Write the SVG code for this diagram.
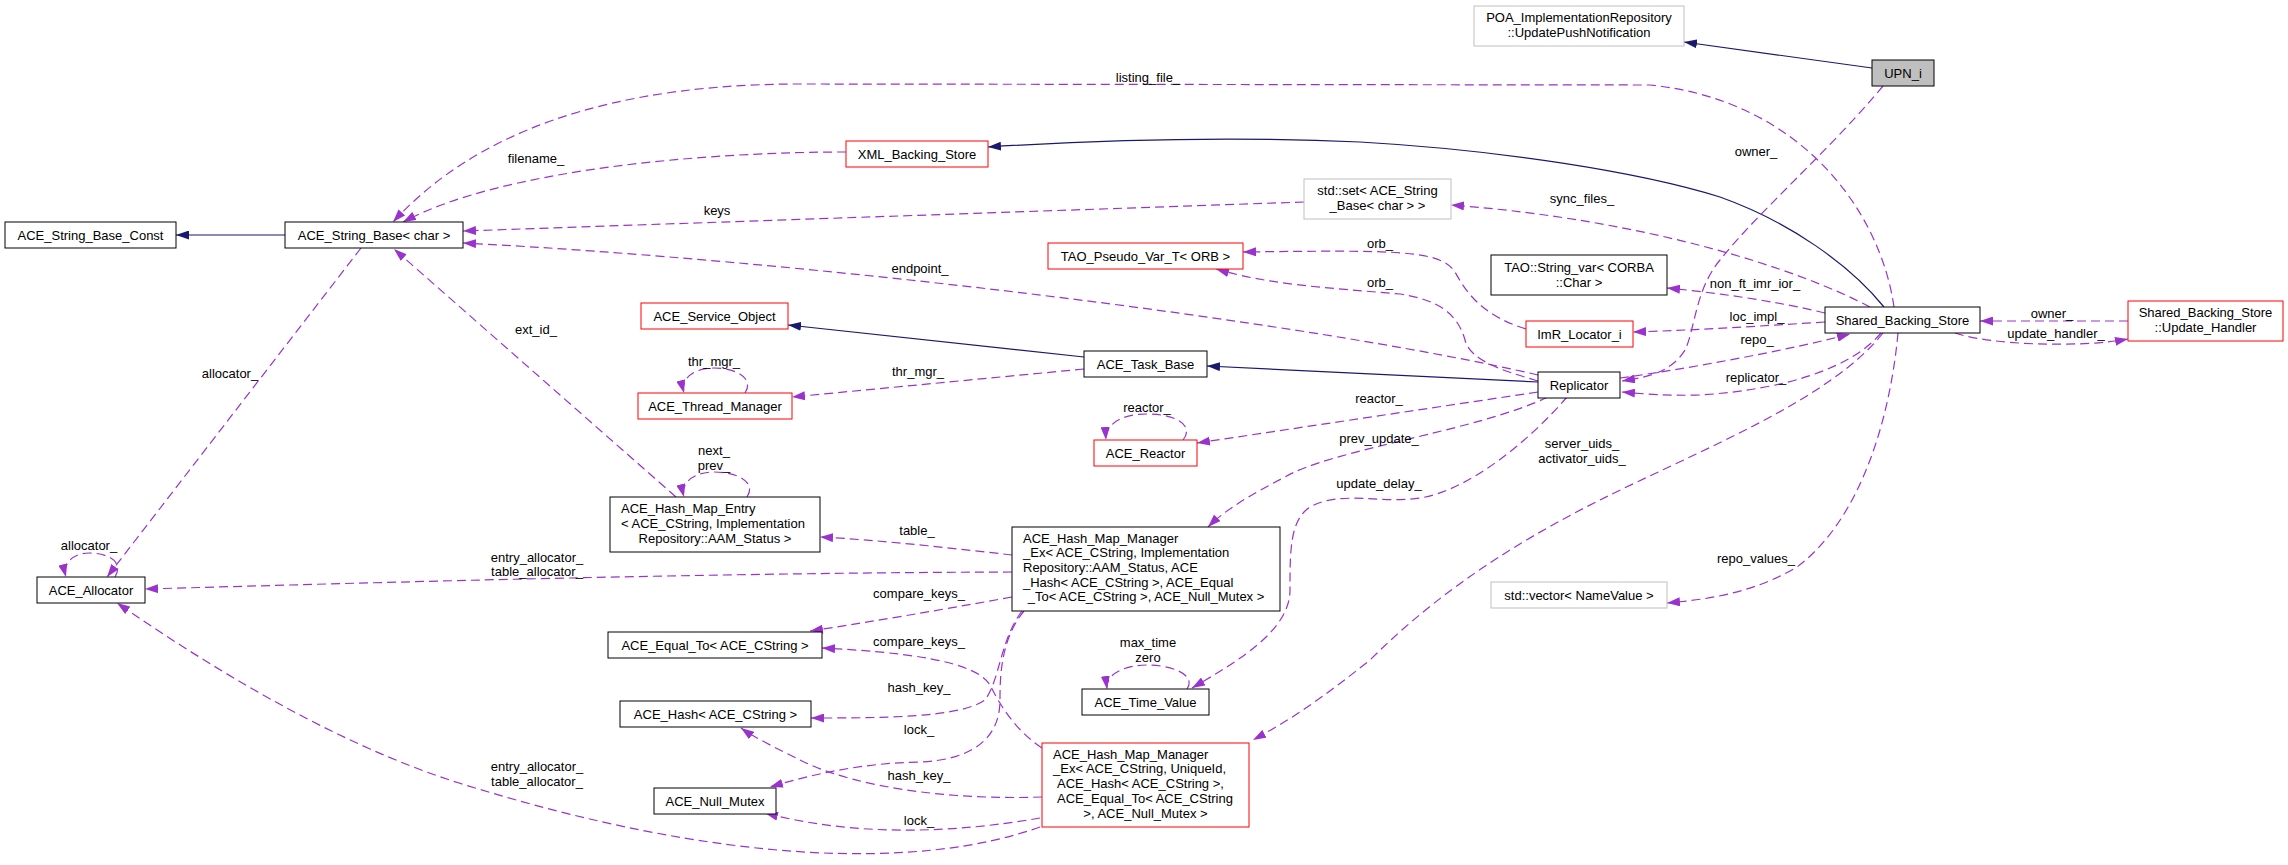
<svg xmlns="http://www.w3.org/2000/svg" width="2288" height="865" viewBox="0 0 2288 865">
<style>
text{font-family:"Liberation Sans",Arial,Helvetica,sans-serif;font-size:13px;fill:#000}
.c{text-anchor:middle}
.n rect{fill:#fff;stroke:#000;stroke-width:1}
.n.r rect{stroke:#ff0000}
.n.g rect{stroke:#bfbfbf}
.n.s rect{fill:#bfbfbf}
.inh{fill:none;stroke:#191970;stroke-width:1.2;marker-end:url(#an)}
.use{fill:none;stroke:#9a32cd;stroke-width:1.2;stroke-dasharray:9,5;marker-end:url(#ap)}
</style>
<defs>
<marker id="an" viewBox="0 0 13 9" refX="13" refY="4.5" markerWidth="13" markerHeight="9" markerUnits="userSpaceOnUse" orient="auto"><path d="M0,0L13,4.5L0,9z" fill="#191970" stroke="none"/></marker>
<marker id="ap" viewBox="0 0 13 9" refX="13" refY="4.5" markerWidth="13" markerHeight="9" markerUnits="userSpaceOnUse" orient="auto"><path d="M0,0L13,4.5L0,9z" fill="#9a32cd" stroke="none"/></marker>
</defs>
<rect width="2288" height="865" fill="#fff"/>
<g id="edges">
<path class="inh" d="M1872,68L1684,42"/>
<path class="inh" d="M1884,307C1850,265 1790,222 1720,197C1640,172 1500,150 1360,142C1230,136 1100,140 988,147"/>
<path class="inh" d="M1538,382L1207,366"/>
<path class="inh" d="M1084,357L788,325"/>
<path class="inh" d="M285,235L176,235"/>
<path class="use" d="M1894,307C1880,210 1800,100 1650,85L800,84C560,84 450,160 393,222"/>
<path class="use" d="M846,152C700,152 500,170 403,222"/>
<path class="use" d="M1304,202L463,231"/>
<path class="use" d="M1538,375C1300,320 800,260 463,243"/>
<path class="use" d="M1870,307C1800,270 1650,220 1451,205"/>
<path class="use" d="M1526,329C1480,315 1465,290 1455,272C1440,250 1400,250 1243,252"/>
<path class="use" d="M1538,381C1500,370 1470,360 1465,340C1458,315 1440,300 1400,294C1330,288 1270,285 1216,269"/>
<path class="use" d="M1825,313C1780,302 1720,293 1667,288"/>
<path class="use" d="M1825,322C1760,326 1700,330 1633,332"/>
<path class="use" d="M1620,378C1680,370 1790,350 1850,334"/>
<path class="use" d="M1881,333C1850,370 1780,390 1700,395C1670,396 1645,394 1622,392"/>
<path class="use" d="M1883,86C1830,150 1760,210 1720,260C1695,290 1695,330 1685,350C1670,375 1640,378 1622,381"/>
<path class="use" d="M2128,321L1980,321"/>
<path class="use" d="M1955,333C1990,345 2080,348 2128,339"/>
<path class="use" d="M1538,392L1197,443"/>
<path class="use" d="M1183,440C1195,425 1175,414 1147,414C1120,414 1105,425 1106,440"/>
<path class="use" d="M1548,397C1480,430 1330,450 1285,477C1250,495 1225,510 1208,527"/>
<path class="use" d="M1567,397C1530,440 1470,490 1420,498C1380,504 1340,490 1310,507C1290,520 1290,550 1290,590C1290,630 1240,660 1192,688"/>
<path class="use" d="M1883,333C1830,400 1700,450 1600,500C1520,540 1440,590 1370,660C1320,700 1290,720 1253,740"/>
<path class="use" d="M1898,333C1890,420 1860,520 1797,567C1750,595 1700,600 1667,603"/>
<path class="use" d="M1084,369L792,397"/>
<path class="use" d="M745,393C755,378 735,368 714,368C695,368 680,378 684,393"/>
<path class="use" d="M747,497C757,482 737,472 714,472C695,472 680,482 684,497"/>
<path class="use" d="M676,497L394,249"/>
<path class="use" d="M361,248L107,577"/>
<path class="use" d="M115,577C125,560 105,553 89,553C75,553 62,562 66,577"/>
<path class="use" d="M1012,555C950,548 880,540 820,537"/>
<path class="use" d="M1012,572C700,573 400,582 145,589"/>
<path class="use" d="M1012,597C940,610 870,622 810,631"/>
<path class="use" d="M1042,748C1015,730 1000,705 990,685C975,660 900,652 822,648"/>
<path class="use" d="M1022,611C1000,640 1000,680 985,700C960,718 880,718 811,718"/>
<path class="use" d="M1042,797C960,800 860,790 800,760C780,750 755,738 741,728"/>
<path class="use" d="M1024,611C1000,640 1000,680 1000,700C1000,740 970,760 920,762C860,763 810,775 770,787"/>
<path class="use" d="M1040,818C960,832 860,838 765,813"/>
<path class="use" d="M1040,827C920,870 720,865 459,783C329,742 200,660 117,603"/>
<path class="use" d="M1187,689C1197,674 1170,665 1147,665C1125,665 1105,674 1107,689"/>
<g id="edge-labels">
<text class="c" x="1148" y="81.5">listing_file_</text>
<text class="c" x="536" y="162.5">filename_</text>
<text class="c" x="717" y="214.5">keys</text>
<text class="c" x="920" y="272.5">endpoint_</text>
<text class="c" x="1582" y="202.5">sync_files_</text>
<text class="c" x="1380" y="247.5">orb_</text>
<text class="c" x="1380" y="286.5">orb_</text>
<text class="c" x="1755" y="287.5">non_ft_imr_ior_</text>
<text class="c" x="1757" y="320.5">loc_impl_</text>
<text class="c" x="1757" y="343.5">repo_</text>
<text class="c" x="1756" y="381.5">replicator_</text>
<text class="c" x="1756" y="155.5">owner_</text>
<text class="c" x="2052" y="317.5">owner_</text>
<text class="c" x="2056" y="337.5">update_handler_</text>
<text class="c" x="1379" y="402.5">reactor_</text>
<text class="c" x="1147" y="411.5">reactor_</text>
<text class="c" x="1379" y="442.5">prev_update_</text>
<text class="c" x="1379" y="487.5">update_delay_</text>
<text class="c" x="1582" y="447.5">server_uids_</text>
<text class="c" x="1582" y="462.5">activator_uids_</text>
<text class="c" x="1756" y="562.5">repo_values_</text>
<text class="c" x="918" y="375.5">thr_mgr_</text>
<text class="c" x="714" y="365.5">thr_mgr_</text>
<text class="c" x="714" y="454.5">next_</text>
<text class="c" x="714" y="469.5">prev_</text>
<text class="c" x="536" y="333.5">ext_id_</text>
<text class="c" x="230" y="377.5">allocator_</text>
<text class="c" x="89" y="549.5">allocator_</text>
<text class="c" x="917" y="534.5">table_</text>
<text class="c" x="537" y="561.5">entry_allocator_</text>
<text class="c" x="537" y="575.5">table_allocator_</text>
<text class="c" x="919" y="597.5">compare_keys_</text>
<text class="c" x="919" y="645.5">compare_keys_</text>
<text class="c" x="919" y="691.5">hash_key_</text>
<text class="c" x="919" y="779.5">hash_key_</text>
<text class="c" x="919" y="733.5">lock_</text>
<text class="c" x="919" y="824.5">lock_</text>
<text class="c" x="537" y="770.5">entry_allocator_</text>
<text class="c" x="537" y="785.5">table_allocator_</text>
<text class="c" x="1148" y="646.5">max_time</text>
<text class="c" x="1148" y="661.5">zero</text>
</g>
</g>
<g id="UPN_i" class="n s"><rect x="1872" y="60" width="62" height="26"/><text class="c" x="1903" y="77.5">UPN_i</text></g>
<g id="POA_UpdatePushNotification" class="n g"><rect x="1474" y="6" width="210" height="40"/><text class="c" x="1579" y="21.5">POA_ImplementationRepository</text><text class="c" x="1579" y="36.5">::UpdatePushNotification</text></g>
<g id="Shared_Backing_Store" class="n"><rect x="1825" y="307" width="155" height="26"/><text class="c" x="1902.5" y="324.5">Shared_Backing_Store</text></g>
<g id="XML_Backing_Store" class="n r"><rect x="846" y="141" width="142" height="26"/><text class="c" x="917" y="158.5">XML_Backing_Store</text></g>
<g id="ACE_String_Base" class="n"><rect x="285" y="222" width="178" height="26"/><text class="c" x="374" y="239.5">ACE_String_Base&lt; char &gt;</text></g>
<g id="ACE_String_Base_Const" class="n"><rect x="5" y="222" width="171" height="26"/><text class="c" x="90.5" y="239.5">ACE_String_Base_Const</text></g>
<g id="std_set" class="n g"><rect x="1304" y="179" width="147" height="40"/><text class="c" x="1377.5" y="195">std::set&lt; ACE_String</text><text class="c" x="1377.5" y="210">_Base&lt; char &gt; &gt;</text></g>
<g id="TAO_Pseudo_Var_T" class="n r"><rect x="1048" y="243" width="195" height="26"/><text class="c" x="1145.5" y="260.5">TAO_Pseudo_Var_T&lt; ORB &gt;</text></g>
<g id="TAO_String_var" class="n"><rect x="1491" y="255" width="176" height="40"/><text class="c" x="1579" y="271.5">TAO::String_var&lt; CORBA</text><text class="c" x="1579" y="286.5">::Char &gt;</text></g>
<g id="ImR_Locator_i" class="n r"><rect x="1526" y="321" width="107" height="26"/><text class="c" x="1579.5" y="338.5">ImR_Locator_i</text></g>
<g id="Replicator" class="n"><rect x="1538" y="372" width="82" height="26"/><text class="c" x="1579" y="389.5">Replicator</text></g>
<g id="Update_Handler" class="n r"><rect x="2128" y="301" width="155" height="40"/><text class="c" x="2205.5" y="317">Shared_Backing_Store</text><text class="c" x="2205.5" y="332">::Update_Handler</text></g>
<g id="std_vector" class="n g"><rect x="1491" y="582" width="176" height="26"/><text class="c" x="1579" y="599.5">std::vector&lt; NameValue &gt;</text></g>
<g id="ACE_Service_Object" class="n r"><rect x="641" y="303" width="147" height="26"/><text class="c" x="714.5" y="320.5">ACE_Service_Object</text></g>
<g id="ACE_Thread_Manager" class="n r"><rect x="638" y="393" width="154" height="26"/><text class="c" x="715" y="410.5">ACE_Thread_Manager</text></g>
<g id="ACE_Task_Base" class="n"><rect x="1084" y="351" width="123" height="26"/><text class="c" x="1145.5" y="368.5">ACE_Task_Base</text></g>
<g id="ACE_Reactor" class="n r"><rect x="1094" y="440" width="103" height="26"/><text class="c" x="1145.5" y="457.5">ACE_Reactor</text></g>
<g id="ACE_Hash_Map_Entry" class="n"><rect x="610" y="497" width="210" height="55"/><text x="621" y="512.5">ACE_Hash_Map_Entry</text><text x="621" y="527.5">&lt; ACE_CString, Implementation</text><text class="c" x="715" y="542.5">Repository::AAM_Status &gt;</text></g>
<g id="ACE_Hash_Map_Manager_Ex_AAM" class="n"><rect x="1012" y="527" width="268" height="84"/><text x="1023" y="542.5">ACE_Hash_Map_Manager</text><text x="1023" y="557">_Ex&lt; ACE_CString, Implementation</text><text x="1023" y="571.5">Repository::AAM_Status, ACE</text><text x="1023" y="586.5">_Hash&lt; ACE_CString &gt;, ACE_Equal</text><text class="c" x="1146" y="601">_To&lt; ACE_CString &gt;, ACE_Null_Mutex &gt;</text></g>
<g id="ACE_Hash_Map_Manager_Ex_UniqueId" class="n r"><rect x="1042" y="743" width="207" height="84"/><text x="1053" y="758.5">ACE_Hash_Map_Manager</text><text x="1053" y="773">_Ex&lt; ACE_CString, UniqueId,</text><text x="1057" y="787.5">ACE_Hash&lt; ACE_CString &gt;,</text><text x="1057" y="802.5">ACE_Equal_To&lt; ACE_CString</text><text class="c" x="1145.5" y="817.5">&gt;, ACE_Null_Mutex &gt;</text></g>
<g id="ACE_Time_Value" class="n"><rect x="1082" y="689" width="127" height="26"/><text class="c" x="1145.5" y="706.5">ACE_Time_Value</text></g>
<g id="ACE_Equal_To" class="n"><rect x="608" y="632" width="214" height="26"/><text class="c" x="715" y="649.5">ACE_Equal_To&lt; ACE_CString &gt;</text></g>
<g id="ACE_Hash" class="n"><rect x="620" y="701" width="191" height="26"/><text class="c" x="715.5" y="718.5">ACE_Hash&lt; ACE_CString &gt;</text></g>
<g id="ACE_Null_Mutex" class="n"><rect x="654" y="788" width="122" height="26"/><text class="c" x="715" y="805.5">ACE_Null_Mutex</text></g>
<g id="ACE_Allocator" class="n"><rect x="37" y="577" width="108" height="26"/><text class="c" x="91" y="594.5">ACE_Allocator</text></g>
</svg>
